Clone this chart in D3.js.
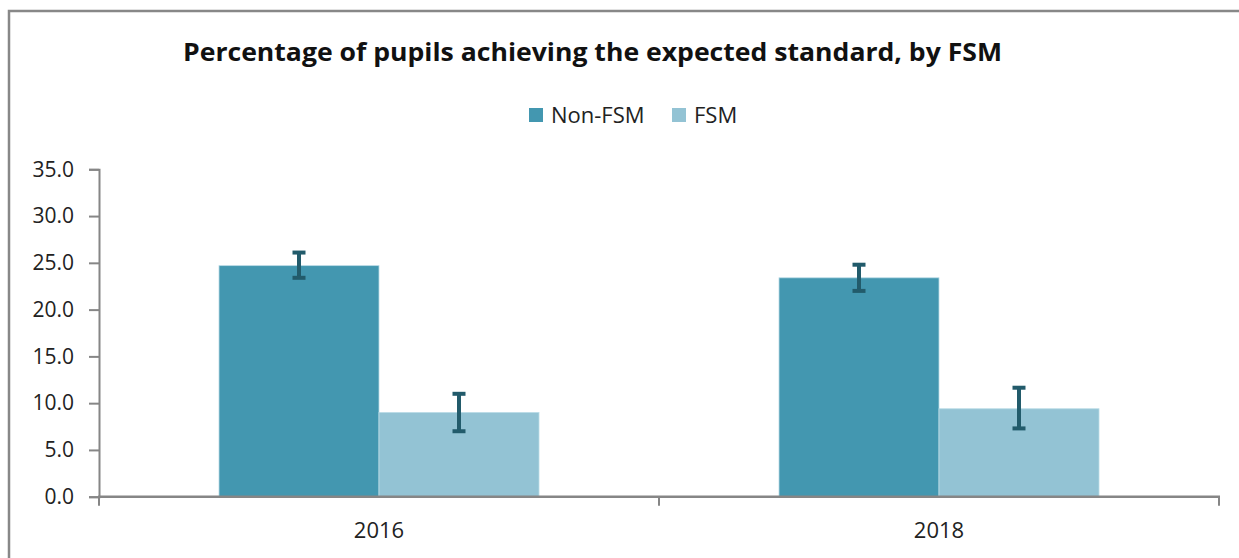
<!DOCTYPE html>
<html>
<head>
<meta charset="utf-8">
<script src="https://cdn.jsdelivr.net/npm/d3@7"></script>
<style>
  body { margin: 0; background: #fff; }
  svg { display: block; font-family: "Open Sans", "Liberation Sans", sans-serif; }
</style>
</head>
<body>
<svg width="1239" height="558"></svg>
<script>
const years = ["2016", "2018"];
const series = ["Non-FSM", "FSM"];
const nonFsm = [24.7, 23.4];
const fsm = [9.0, 9.4];
const nonFsmLow = [23.4, 22.0];
const nonFsmHigh = [26.1, 24.8];
const fsmLow = [7.0, 7.3];
const fsmHigh = [11.0, 11.65];
const yTicks = [0, 5, 10, 15, 20, 25, 30, 35];

const colors = { "Non-FSM": "#4397b0", "FSM": "#93c3d4" };
const errColor = "#225b6b";
const axisColor = "#868686";

const svg = d3.select("svg");

// outer frame (runs off the right and bottom edges)
svg.append("rect")
  .attr("x", 9).attr("y", 11)
  .attr("width", 1260).attr("height", 580)
  .attr("fill", "none")
  .attr("stroke", "#888")
  .attr("stroke-width", 2.5);

svg.append("text")
  .attr("x", 183).attr("y", 61)
  .attr("font-size", 25)
  .attr("font-weight", "bold")
  .attr("fill", "#111")
  .attr("textLength", 819)
  .attr("lengthAdjust", "spacingAndGlyphs")
  .text("Percentage of pupils achieving the expected standard, by FSM");

// legend
const legendX = { "Non-FSM": 529, "FSM": 672 };
const legend = svg.append("g").selectAll("g")
  .data(series)
  .join("g")
  .attr("transform", d => `translate(${legendX[d]},108)`);
legend.append("rect")
  .attr("width", 14).attr("height", 14)
  .attr("fill", d => colors[d]);
legend.append("text")
  .attr("x", 22).attr("y", 14.5)
  .attr("font-size", 22)
  .attr("fill", "#222")
  .text(d => d);

const x0 = d3.scaleBand().domain(years).range([99, 1219]).paddingInner(0).paddingOuter(0);
const x1 = d3.scaleBand().domain(series).range([0, x0.bandwidth()]).paddingInner(0).paddingOuter(0.75);
const y = d3.scaleLinear().domain([0, 35]).range([496.7, 169.3]);

const rows = [];
years.forEach((yr, i) => {
  rows.push({ year: yr, key: "Non-FSM", value: nonFsm[i], low: nonFsmLow[i], high: nonFsmHigh[i] });
  rows.push({ year: yr, key: "FSM", value: fsm[i], low: fsmLow[i], high: fsmHigh[i] });
});

svg.append("g").selectAll("rect")
  .data(rows)
  .join("rect")
  .attr("x", d => x0(d.year) + x1(d.key))
  .attr("y", d => y(d.value))
  .attr("width", x1.bandwidth())
  .attr("height", d => y(0) - y(d.value))
  .attr("fill", d => colors[d.key])
  .attr("stroke", "#b9dbe6")
  .attr("stroke-width", 0.8);

// error bars
const err = svg.append("g").selectAll("g")
  .data(rows)
  .join("g")
  .attr("transform", d => `translate(${x0(d.year) + x1(d.key) + x1.bandwidth() / 2},0)`)
  .attr("stroke", errColor);
err.append("line")
  .attr("y1", d => y(d.low)).attr("y2", d => y(d.high))
  .attr("stroke-width", 4);
err.selectAll(".cap")
  .data(d => [d.low, d.high])
  .join("line")
  .attr("class", "cap")
  .attr("x1", -6.5).attr("x2", 6.5)
  .attr("y1", v => y(v)).attr("y2", v => y(v))
  .attr("stroke-width", 4);

// y axis
const yAxis = svg.append("g")
  .attr("transform", "translate(99,0)")
  .call(d3.axisLeft(y).tickValues(yTicks).tickFormat(d3.format(".1f")).tickSize(10).tickPadding(15));
yAxis.select(".domain").attr("stroke", axisColor).attr("stroke-width", 2);
yAxis.selectAll(".tick line").attr("stroke", axisColor).attr("stroke-width", 2);
yAxis.selectAll(".tick text").attr("font-size", 21).attr("fill", "#222").attr("font-family", "Open Sans");

// x axis with ticks at category boundaries
const xAxisG = svg.append("g");
xAxisG.append("line")
  .attr("x1", 98).attr("x2", 1220)
  .attr("y1", y(0)).attr("y2", y(0))
  .attr("stroke", axisColor).attr("stroke-width", 2.5);
const bounds = years.map(d => x0(d)).concat([x0(years[years.length - 1]) + x0.bandwidth()]);
xAxisG.selectAll(".xt")
  .data(bounds)
  .join("line")
  .attr("class", "xt")
  .attr("x1", d => d).attr("x2", d => d)
  .attr("y1", y(0)).attr("y2", y(0) + 9)
  .attr("stroke", axisColor).attr("stroke-width", 2);
xAxisG.selectAll("text")
  .data(years)
  .join("text")
  .attr("x", d => x0(d) + x0.bandwidth() / 2)
  .attr("y", 538)
  .attr("text-anchor", "middle")
  .attr("font-size", 22)
  .attr("fill", "#222")
  .text(d => d);
</script>
</body>
</html>
